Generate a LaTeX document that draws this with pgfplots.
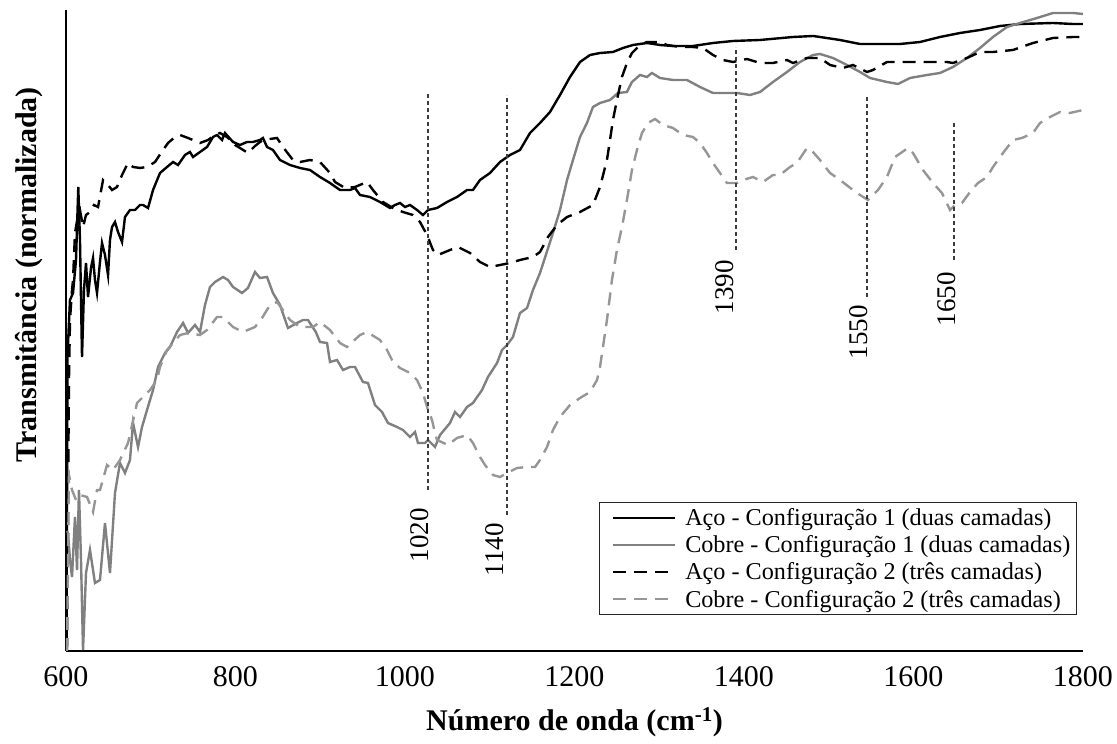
\documentclass[border=0pt]{standalone}
\usepackage{fontspec}
\setmainfont{Liberation Serif}
\usepackage{pgfplots}
\pgfplotsset{compat=1.18}
\definecolor{gsolid}{RGB}{128,128,128}
\definecolor{gdash}{RGB}{150,150,150}
\definecolor{vline}{RGB}{60,60,60}
\begin{document}
\begin{tikzpicture}
\begin{axis}[
  width=1017pt, height=641pt, scale only axis,
  xmin=600, xmax=1800, ymin=0, ymax=641,
  axis lines=left, axis line style={-, line width=2pt, black},
  xtick={600,800,1000,1200,1400,1600,1800}, ytick=\empty,
  major tick length=0pt,
  /pgf/number format/assume math mode=true,
  /pgf/number format/1000 sep={},
  xticklabel style={font=\fontsize{30}{36}\selectfont, yshift=-12pt},
  xlabel={\textbf{Número de onda (cm\textsuperscript{-1})}},
  xlabel style={font=\fontsize{30}{36}\selectfont, at={(rel axis cs:0.5,0)}, anchor=base, yshift=-80pt},
  ylabel={\textbf{Transmitância (normalizada)}},
  ylabel style={font=\fontsize{30}{36}\selectfont, at={(rel axis cs:0,0.587)}, anchor=base, yshift=29pt},
  clip=false,
  legend style={at={(rel axis cs:0.994,0.056)}, anchor=south east, font=\fontsize{24.2}{29}\selectfont, draw=black!85, line width=1.2pt, inner xsep=4pt, inner ysep=4pt, row sep=4.5pt},
  legend cell align=left,
  legend image code/.code={\path[draw=none] (0pt,0pt) -- (80pt,0pt); \draw[#1, line width=2.4pt] (10pt,0pt) -- (72pt,0pt);},
]
\addplot[black, line width=2.4pt] coordinates {(600.6,0)(601.8,296)(604.7,351)(608.3,358)(611.8,391)(614.5,464)(616.5,411)(618.9,294)(621.2,361)(623.6,388)(626.0,354)(629.5,383)(631.9,393)(634.2,371)(636.6,358)(640.1,389)(642.5,408)(646.0,396)(649.6,376)(651.9,411)(654.3,424)(657.8,429)(661.4,419)(666.1,409)(669.6,434)(675.5,441)(681.4,441)(687.3,446)(690.9,446)(696.8,443)(702.7,461)(710.9,478)(719.2,484)(726.3,489)(732.2,486)(740.4,496)(746.3,499)(749.9,494)(758.1,499)(766.4,504)(773.5,514)(778.2,516)(784.1,511)(787.6,518)(797.1,509)(805.3,506)(813.6,509)(820.6,509)(828.9,511)(832.4,513)(837.2,504)(844.2,501)(852.5,491)(864.3,486)(876.1,483)(887.9,481)(899.7,474)(911.5,468)(923.3,461)(935.1,461)(941.0,463)(946.9,456)(958.7,454)(970.5,449)(982.3,443)(988.2,446)(994.1,448)(1000.0,444)(1005.9,446)(1014.2,441)(1021.2,436)(1027.1,441)(1037.8,443)(1049.6,449)(1061.4,454)(1073.2,461)(1080.2,461)(1088.5,471)(1100.3,478)(1112.1,489)(1123.9,496)(1135.7,501)(1147.5,518)(1159.3,528)(1171.1,539)(1179.4,551)(1182.9,556)(1194.7,574)(1206.5,589)(1218.3,596)(1230.1,598)(1245.4,599)(1257.2,603)(1269.0,606)(1285.5,608)(1300.9,606)(1316.2,605)(1339.8,605)(1363.4,608)(1387.0,610)(1418.9,611)(1457.8,614)(1481.4,615)(1489.7,614)(1513.3,611)(1536.9,607)(1560.5,607)(1584.1,607)(1607.7,609)(1631.3,614)(1654.9,618)(1678.5,621)(1702.1,625)(1725.7,627)(1764.6,628)(1788.2,627)(1800,627)};
\addlegendentry{Aço - Configuração 1 (duas camadas)}
\addplot[gsolid, line width=2.4pt] coordinates {(601.2,120)(602.4,118)(604.7,91)(607.1,74)(610.6,134)(613.0,81)(615.3,161)(617.7,91)(620.1,1)(623.6,78)(628.3,101)(631.9,81)(634.2,68)(640.1,71)(646.0,128)(651.9,78)(657.8,158)(663.7,188)(669.6,178)(675.5,191)(679.1,228)(685.0,204)(689.7,224)(695.6,241)(702.7,261)(708.6,284)(716.8,298)(722.7,304)(731.0,319)(738.1,328)(744.0,318)(752.2,326)(758.1,319)(764.0,346)(769.9,364)(775.8,369)(785.3,374)(791.2,371)(797.1,364)(807.7,358)(814.7,363)(823.0,379)(828.9,373)(837.2,374)(844.2,358)(852.5,346)(861.9,323)(872.6,328)(879.6,331)(885.5,331)(894.8,319)(899.7,309)(908.0,308)(911.5,289)(919.8,291)(926.8,281)(935.1,284)(941.0,284)(950.4,269)(956.3,268)(964.6,246)(972.9,239)(979.9,228)(990.6,224)(997.6,221)(1005.9,214)(1011.8,219)(1015.3,208)(1023.6,208)(1027.1,211)(1035.4,204)(1041.3,216)(1053.1,228)(1059.0,239)(1064.9,234)(1073.2,244)(1080.2,248)(1090.9,261)(1097.9,274)(1108.6,288)(1114.5,301)(1120.4,306)(1127.4,314)(1135.7,338)(1144.0,343)(1151.0,361)(1159.3,378)(1174.6,418)(1182.9,441)(1191.2,471)(1198.2,491)(1206.5,514)(1214.7,528)(1221.8,544)(1230.1,548)(1241.9,551)(1251.3,558)(1261.9,559)(1267.8,569)(1277.3,576)(1285.5,574)(1291.4,578)(1300.9,573)(1316.2,571)(1332.7,571)(1348.1,564)(1363.4,558)(1379.9,558)(1391.7,558)(1407.1,556)(1418.9,559)(1434.2,569)(1450.7,579)(1466.1,589)(1481.4,596)(1489.7,597)(1505.0,593)(1521.5,586)(1536.9,579)(1548.7,573)(1568.7,569)(1581.7,567)(1595.9,573)(1615.9,576)(1631.3,578)(1646.6,584)(1663.1,593)(1678.5,603)(1693.8,614)(1710.3,624)(1725.7,628)(1745.7,633)(1764.6,638)(1788.2,638)(1800,637)};
\addlegendentry{Cobre - Configuração 1 (duas camadas)}
\addplot[black, line width=2.4pt, dash pattern=on 13pt off 8pt] coordinates {(601.2,0)(602.4,151)(603.5,271)(604.7,331)(607.1,361)(608.3,371)(610.6,418)(614.2,436)(616.5,441)(620.1,424)(623.6,436)(628.3,439)(633.0,446)(637.8,444)(643.7,471)(649.6,466)(654.3,461)(660.2,464)(666.1,476)(673.2,488)(679.1,484)(687.3,483)(695.6,484)(705.0,489)(714.5,501)(720.4,508)(728.6,514)(734.5,516)(744.0,513)(758.1,508)(767.6,511)(775.8,516)(781.7,518)(790.0,514)(799.4,506)(805.3,503)(814.7,498)(823.0,505)(828.9,509)(832.4,511)(840.7,512)(849.0,513)(856.0,504)(867.8,491)(876.1,489)(887.9,491)(899.7,489)(911.5,478)(917.4,469)(929.2,463)(941.0,464)(955.2,469)(962.2,461)(974.0,449)(985.8,443)(997.6,439)(1009.4,436)(1017.7,429)(1026.0,416)(1033.0,401)(1038.9,396)(1053.1,401)(1062.5,404)(1076.7,398)(1088.5,389)(1100.3,384)(1112.1,386)(1123.9,388)(1135.7,391)(1151.0,394)(1159.3,399)(1168.7,414)(1179.4,426)(1191.2,434)(1206.5,439)(1221.8,446)(1230.1,464)(1238.3,491)(1241.9,511)(1245.4,531)(1250.1,551)(1256.0,574)(1261.9,588)(1267.8,598)(1277.3,606)(1285.5,609)(1300.9,609)(1309.1,606)(1324.5,604)(1339.8,604)(1351.6,603)(1363.4,596)(1375.2,591)(1387.0,589)(1403.5,592)(1418.9,588)(1434.2,588)(1450.7,591)(1457.8,588)(1474.3,593)(1489.7,593)(1501.5,586)(1516.8,583)(1528.6,586)(1545.1,579)(1552.2,581)(1568.7,589)(1592.3,589)(1615.9,589)(1639.5,589)(1646.6,588)(1663.1,593)(1678.5,599)(1693.8,599)(1717.4,601)(1741.0,608)(1764.6,613)(1788.2,614)(1800,614)};
\addlegendentry{Aço - Configuração 2 (três camadas)}
\addplot[gdash, line width=2.4pt, dash pattern=on 13pt off 8pt] coordinates {(601.2,0)(602.4,91)(603.5,176)(607.1,161)(611.8,151)(616.5,156)(624.8,154)(631.9,139)(636.6,161)(640.1,161)(648.4,186)(655.5,181)(663.7,191)(673.2,208)(683.8,248)(687.3,251)(699.1,261)(707.4,271)(710.9,284)(719.2,301)(726.3,308)(734.5,316)(744.0,318)(758.1,316)(766.4,321)(778.2,334)(785.3,334)(797.1,324)(808.8,319)(823.0,324)(831.3,333)(840.7,346)(849.0,349)(856.0,341)(864.3,331)(876.1,324)(891.4,324)(899.7,329)(911.5,321)(923.3,308)(931.6,304)(946.9,316)(955.2,319)(970.5,311)(978.8,301)(985.8,289)(994.1,283)(1005.9,278)(1014.2,271)(1021.2,258)(1027.1,241)(1031.9,231)(1035.4,218)(1037.8,211)(1050.7,206)(1061.4,213)(1073.2,216)(1080.2,208)(1088.5,194)(1094.4,186)(1103.8,176)(1112.1,174)(1120.4,178)(1132.2,183)(1144.0,184)(1153.4,184)(1159.3,191)(1167.6,204)(1174.6,221)(1182.9,234)(1194.7,246)(1206.5,253)(1218.3,259)(1226.6,271)(1230.1,284)(1238.3,331)(1244.2,371)(1250.1,401)(1256.0,424)(1261.9,451)(1267.8,481)(1273.7,501)(1279.6,518)(1286.7,528)(1295.0,532)(1304.4,526)(1316.2,523)(1328.0,516)(1339.8,514)(1348.1,508)(1356.3,498)(1363.4,488)(1371.7,478)(1379.9,468)(1391.7,468)(1398.8,471)(1410.6,474)(1422.4,469)(1434.2,476)(1442.5,476)(1454.3,484)(1462.5,488)(1474.3,503)(1481.4,499)(1489.7,491)(1501.5,478)(1513.3,471)(1528.6,461)(1536.9,456)(1546.3,451)(1558.1,461)(1568.7,474)(1578.2,494)(1593.5,503)(1599.4,498)(1611.2,481)(1623.0,468)(1633.6,458)(1643.1,441)(1649.0,446)(1657.2,448)(1666.7,459)(1676.1,468)(1686.7,474)(1693.8,484)(1705.6,498)(1717.4,511)(1728.0,513)(1741.0,518)(1749.3,528)(1761.1,534)(1772.9,539)(1784.7,538)(1800,541)};
\addlegendentry{Cobre - Configuração 2 (três camadas)}
\addplot[forget plot, vline, line width=1.1pt, dash pattern=on 4pt off 3pt] coordinates {(1027.1,161)(1027.1,558)};
\addplot[forget plot, vline, line width=1.1pt, dash pattern=on 4pt off 3pt] coordinates {(1120.4,136)(1120.4,556)};
\addplot[forget plot, vline, line width=1.1pt, dash pattern=on 4pt off 3pt] coordinates {(1390.6,401)(1390.6,604)};
\addplot[forget plot, vline, line width=1.1pt, dash pattern=on 4pt off 3pt] coordinates {(1545.1,354)(1545.1,556)};
\addplot[forget plot, vline, line width=1.1pt, dash pattern=on 4pt off 3pt] coordinates {(1647.8,391)(1647.8,529)};
\node[rotate=90, anchor=east, inner sep=0pt, font=\fontsize{27}{32}\selectfont] at (axis cs:1017.7,143) {1020};
\node[rotate=90, anchor=east, inner sep=0pt, font=\fontsize{27}{32}\selectfont] at (axis cs:1106.2,128) {1140};
\node[rotate=90, anchor=east, inner sep=0pt, font=\fontsize{27}{32}\selectfont] at (axis cs:1377.6,391) {1390};
\node[rotate=90, anchor=east, inner sep=0pt, font=\fontsize{27}{32}\selectfont] at (axis cs:1535.7,346) {1550};
\node[rotate=90, anchor=east, inner sep=0pt, font=\fontsize{27}{32}\selectfont] at (axis cs:1639.5,379) {1650};
\path (rel axis cs:0,0) ++(-66pt,-93pt) rectangle ++(1117pt,744pt);
\end{axis}
\end{tikzpicture}
\end{document}
